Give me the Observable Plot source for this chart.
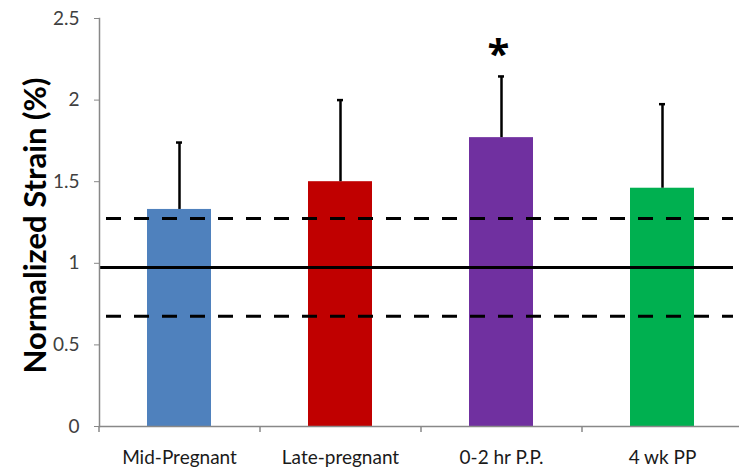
<!DOCTYPE html>
<html>
<head>
<meta charset="utf-8">
<script src="https://cdn.jsdelivr.net/npm/d3@7"></script>
<script src="https://cdn.jsdelivr.net/npm/@observablehq/plot@0.6"></script>
<style>
  html, body { margin: 0; padding: 0; background: #fff; }
  #chart svg { display: block; overflow: hidden; }
</style>
</head>
<body>
<div id="chart"></div>
<script>
const categories = ["Mid-Pregnant", "Late-pregnant", "0-2 hr P.P.", "4 wk PP"];
const means = [1.33, 1.50, 1.77, 1.46];
const errors = [0.41, 0.50, 0.375, 0.515];
const colors = ["#4F81BD", "#C00000", "#7030A0", "#00B050"];
const significant = ["", "", "*", ""];
const refMean = 0.975;
const refSD = 0.3;
const yTicks = [0, 0.5, 1, 1.5, 2, 2.5];

const data = categories.map((c, i) => ({
  cat: c, mean: means[i], hi: means[i] + errors[i], color: colors[i], sig: significant[i]
}));

const W = 739, H = 470, ML = 99, MR = -4, MT = 18, MB = 44;
const xOpts = {domain: categories, paddingInner: 0.6, paddingOuter: 0.3, align: 0.5};
const xScale = Plot.scale({x: {...xOpts, type: "band", range: [ML, W - MR]}});
const step = xScale.step;

const chart = Plot.plot({
  width: W,
  height: H,
  marginLeft: ML,
  marginRight: MR,
  marginTop: MT,
  marginBottom: MB,
  style: {fontFamily: "Lato, 'Open Sans', sans-serif", fontSize: "19px", color: "#404040", background: "#fff"},
  x: xOpts,
  y: {domain: [0, 2.5]},
  marks: [
    Plot.barY(data, {x: "cat", y: "mean", fill: "color"}),
    Plot.ruleY([refMean], {stroke: "black", strokeWidth: 3, insetRight: 10}),
    Plot.ruleY([refMean + refSD, refMean - refSD], {stroke: "black", strokeWidth: 3, strokeDasharray: "15,13", strokeDashoffset: 21, insetRight: 10}),
    Plot.ruleX(data, {x: "cat", y1: "mean", y2: "hi", stroke: "black", strokeWidth: 2.5}),
    Plot.tickY(data, {x: "cat", y: "hi", stroke: "black", strokeWidth: 2.5, insetLeft: 29, insetRight: 29}),
    Plot.text(data.filter(d => d.sig), {x: "cat", y: "hi", text: "sig", fontSize: 40, fontWeight: "bold", dx: -3, dy: -8, lineAnchor: "bottom", fill: "black", fontFamily: "'Open Sans', sans-serif"}),
    Plot.axisY({ticks: yTicks, tickFormat: d => String(d), tickSize: 5, tickPadding: 15, stroke: "#888", fill: "#404040", label: null, fontSize: 19}),
    Plot.axisX({tickSize: 0, tickPadding: 24, label: null, fill: "#1a1a1a", fontSize: 19}),
    Plot.ruleX(categories, {x: d => d, y1: 0, y2: 0, insetBottom: -6, dx: -step / 2, stroke: "#888", strokeWidth: 1.5}),
    Plot.frame({anchor: "bottom", stroke: "#888", strokeWidth: 1.5}),
    Plot.frame({anchor: "left", stroke: "#888", strokeWidth: 1.5}),
    Plot.text(["Normalized Strain (%)"], {frameAnchor: "left", textAnchor: "middle", dx: -63, dy: 3, rotate: -90, fontSize: 31, fontWeight: "bold", fill: "black"})
  ]
});

document.getElementById("chart").append(chart);
</script>
</body>
</html>
